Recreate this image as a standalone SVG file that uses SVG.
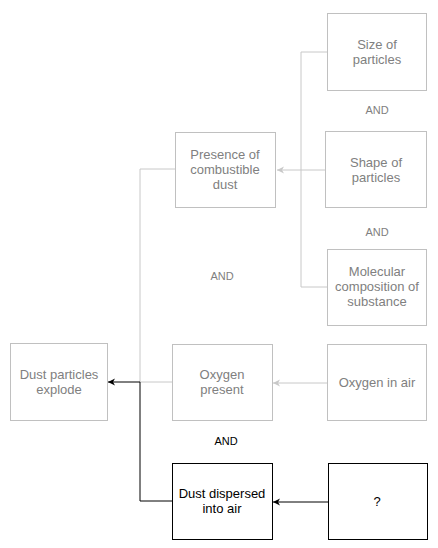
<svg xmlns="http://www.w3.org/2000/svg" width="438" height="548" viewBox="0 0 438 548">
<style>
.g rect{fill:#fff;stroke:#c0c0c0;stroke-width:1}
.k rect{fill:#fff;stroke:#000;stroke-width:1}
text{font-family:"Liberation Sans",Arial,sans-serif;font-size:13px;text-anchor:middle}
.g text{fill:#808080}
.k text{fill:#000}
.and{font-size:11px;fill:#808080}
.andk{font-size:11px;fill:#000}
.lg{fill:none;stroke:#c8c8c8;stroke-width:1}
.lk{fill:none;stroke:#000;stroke-width:1}
</style>
<defs>
<marker id="ag" markerWidth="8" markerHeight="8" refX="7" refY="4" orient="auto" markerUnits="userSpaceOnUse"><path d="M0,0.5 L7,4 L0,7.5 L2,4 Z" fill="#c8c8c8"/></marker>
<marker id="ak" markerWidth="8" markerHeight="8" refX="7" refY="4" orient="auto" markerUnits="userSpaceOnUse"><path d="M0,0.5 L7,4 L0,7.5 L2,4 Z" fill="#000"/></marker>
</defs>
<g id="connectors">
<path class="lg" d="M327,52 H301 V287 H327"/>
<path class="lg" d="M325,170 H277" marker-end="url(#ag)"/>
<path class="lg" d="M175,169 H140 V382"/>
<path class="lg" d="M172,382 H140"/>
<path class="lg" d="M327,383 H273" marker-end="url(#ag)"/>
<path class="lk" stroke="#555" d="M172,501 H140 V382"/>
<path class="lk" d="M140,382 H108" marker-end="url(#ak)"/>
<path class="lk" d="M328,502 H273" marker-end="url(#ak)"/>
</g>
<g id="explode" class="g"><rect x="10.5" y="343.5" width="97" height="77"/><text x="59" y="379">Dust particles</text><text x="59" y="394">explode</text></g>
<g id="presence" class="g"><rect x="175.5" y="132.5" width="100" height="75"/><text x="225" y="159">Presence of</text><text x="225" y="174">combustible</text><text x="225" y="189">dust</text></g>
<g id="size" class="g"><rect x="327.5" y="13.5" width="99" height="77"/><text x="377" y="49">Size of</text><text x="377" y="64">particles</text></g>
<g id="shape" class="g"><rect x="325.5" y="131.5" width="101" height="76"/><text x="376" y="167">Shape of</text><text x="376" y="182">particles</text></g>
<g id="molecular" class="g"><rect x="327.5" y="249.5" width="99" height="76"/><text x="377" y="276">Molecular</text><text x="377" y="291">composition of</text><text x="377" y="306">substance</text></g>
<g id="oxygen" class="g"><rect x="172.5" y="344.5" width="100" height="76"/><text x="222" y="379">Oxygen</text><text x="222" y="394">present</text></g>
<g id="oxygenair" class="g"><rect x="327.5" y="344.5" width="99" height="76"/><text x="377" y="387">Oxygen in air</text></g>
<g id="dispersed" class="k"><rect x="172.5" y="463.5" width="100" height="76"/><text x="222" y="498">Dust dispersed</text><text x="222" y="513">into air</text></g>
<g id="question" class="k"><rect x="328.5" y="463.5" width="99" height="76"/><text x="377" y="506">?</text></g>
<g id="labels">
<text class="and" x="377" y="114">AND</text>
<text class="and" x="377" y="236">AND</text>
<text class="and" x="222" y="280">AND</text>
<text class="andk" x="226" y="445">AND</text>
</g>
</svg>
